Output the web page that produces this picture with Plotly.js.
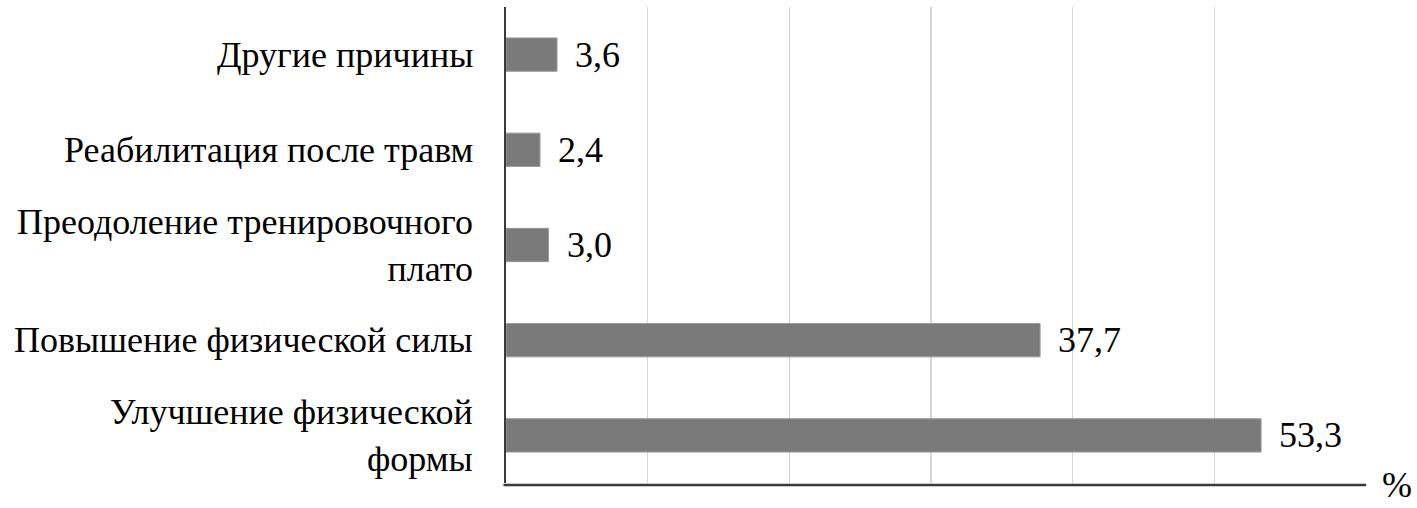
<!DOCTYPE html>
<html><head><meta charset="utf-8">
<script src="https://cdn.plot.ly/plotly-3.0.1.min.js"></script>
<style>html,body{margin:0;padding:0;background:#fff}#chart{width:1417px;height:508px}
.warm{position:absolute;left:20px;z-index:-1;color:#fff;white-space:nowrap;font-family:'Liberation Serif'}
</style>
</head><body><div id="chart"></div>
<div class="warm" style="top:20px;font-size:36px">Другие причины 3,6</div>
<div class="warm" style="top:80px;font-size:36px;font-family:'Liberation Serif','DejaVu Serif'">Преодоление плато 53,3 %</div>
<script>
const categories = ["Улучшение физической<br>формы", "Повышение физической силы", "Преодоление тренировочного<br>плато", "Реабилитация после травм", "Другие причины"];
const values = [53.3, 37.7, 3.0, 2.4, 3.6];
const labels = values.map(v => v.toFixed(1).replace(".", ","));
const FONT = "Liberation Serif, DejaVu Serif";
const TXT = {family: FONT, size: 36, color: "#000"};

const trace = {
  type: "bar", orientation: "h",
  x: values, y: categories,
  marker: {color: "#7a7a7a", line: {color: "#9a9a9a", width: 1}},
  hoverinfo: "none"
};
const catAnn = categories.map(c => ({text: c, x: 0, xref: "paper", y: c, yref: "y", xanchor: "right", yanchor: "middle",
  xshift: -31, align: "right", showarrow: false, font: TXT}));
const valAnn = values.map((v, i) => ({text: labels[i], x: v, xref: "x", y: categories[i], yref: "y", xanchor: "left", yanchor: "middle",
  xshift: 16, showarrow: false, font: TXT}));
const layout = {
  width: 1417, height: 508,
  margin: {l: 506, r: 61, t: 7, b: 25},
  paper_bgcolor: "#fff", plot_bgcolor: "#fff",
  bargap: 0.65, showlegend: false,
  font: TXT,
  xaxis: {range: [0, 60], dtick: 10, showticklabels: false, showgrid: true, gridcolor: "#d4d4d4", gridwidth: 1.5, zeroline: false, showline: false, ticks: ""},
  yaxis: {showline: true, linecolor: "#3a3a3a", linewidth: 2.5, ticks: "", showticklabels: false, showgrid: false, zeroline: false, automargin: false},
  shapes: [{type: "line", xref: "paper", yref: "paper", x0: -0.003, x1: 1.012, y0: -0.004, y1: -0.004, line: {color: "#3a3a3a", width: 2.5}}],
  annotations: catAnn.concat(valAnn, [{text: "%", xref: "paper", yref: "paper", x: 1.048, y: -0.004, xanchor: "center", yanchor: "middle", showarrow: false, font: TXT}])
};
Plotly.newPlot("chart", [trace], layout, {staticPlot: true});
</script></body></html>
